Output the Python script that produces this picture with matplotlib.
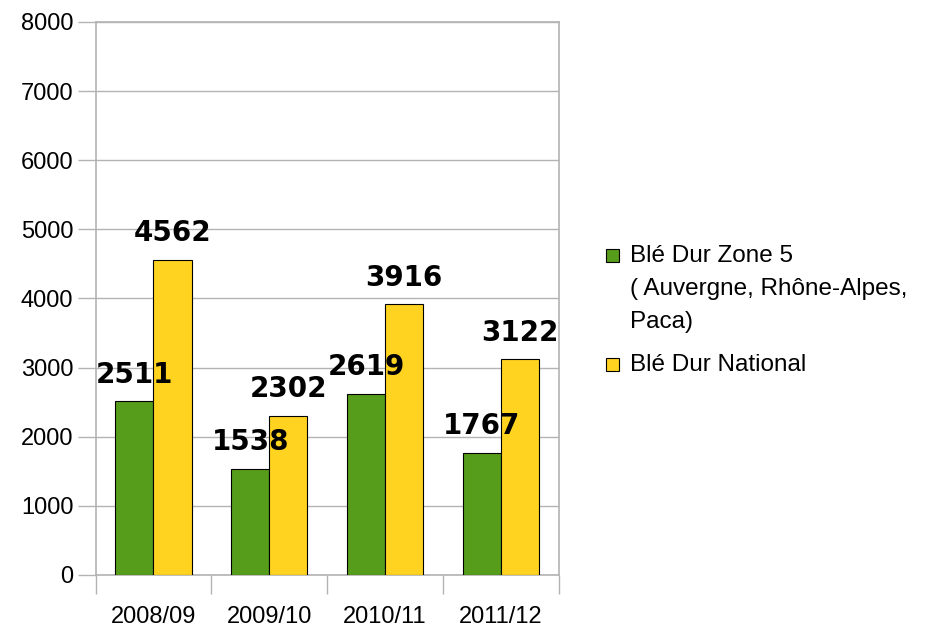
import numpy as np
import matplotlib.pyplot as plt
from matplotlib.patches import Rectangle

seasons = ['2008/09', '2009/10', '2010/11', '2011/12']
zone5 = [2511, 1538, 2619, 1767]
national = [4562, 2302, 3916, 3122]
zone5_lines = ['Blé Dur Zone 5', '( Auvergne, Rhône-Alpes,', 'Paca)']
national_lines = ['Blé Dur National']

green = '#579d1c'
yellow = '#ffd320'
grid_col = '#b3b3b3'

plt.rcParams['font.family'] = ['Liberation Sans', 'DejaVu Sans']

W, H = 928, 627
fig = plt.figure(figsize=(W / 100, H / 100), dpi=100)
ax = fig.add_axes([0.103, 0.083, 0.499, 0.882])

x = np.arange(len(seasons))
w = 0.33
b1 = ax.bar(x - w / 2, zone5, w, color=green, edgecolor='black', linewidth=0.8, zorder=3)
b2 = ax.bar(x + w / 2, national, w, color=yellow, edgecolor='black', linewidth=0.8, zorder=3)

for bars in (b1, b2):
    ax.bar_label(bars, padding=9, fontsize=20, fontweight='bold',
                 family='DejaVu Sans', zorder=4)

ax.set_xlim(-0.5, len(seasons) - 0.5)
ax.set_ylim(0, 8000)
ax.set_yticks(range(0, 8001, 1000))
ax.tick_params(axis='y', labelsize=17, length=13, color=grid_col, width=1, pad=3)

# category labels centred, tick marks on the boundaries
ax.set_xticks(x)
ax.set_xticklabels(seasons, fontsize=17)
ax.tick_params(axis='x', which='major', length=0, pad=22)
ax.set_xticks(np.arange(-0.5, len(seasons)), minor=True)
ax.tick_params(axis='x', which='minor', length=14, color=grid_col, width=1)

ax.yaxis.grid(True, color=grid_col, linewidth=1, zorder=0)
ax.set_axisbelow(True)
for s in ax.spines.values():
    s.set_color(grid_col)
    s.set_linewidth(1.2)


# legend drawn by hand so the key sits on the first line of the wrapped label
def fx(px):
    return px / W


def fy(py):
    return 1 - py / H


entries = [(green, zone5_lines, 262), (yellow, national_lines, 371)]
for col, lines, base in entries:
    fig.patches.append(Rectangle((fx(606), fy(base)), 13 / W, 13 / H,
                                 transform=fig.transFigure, facecolor=col,
                                 edgecolor='black', linewidth=0.8))
    for i, line in enumerate(lines):
        fig.text(fx(630), fy(base + 33 * i), line, fontsize=17.5, va='baseline')

fig.savefig('out.png', dpi=100)
